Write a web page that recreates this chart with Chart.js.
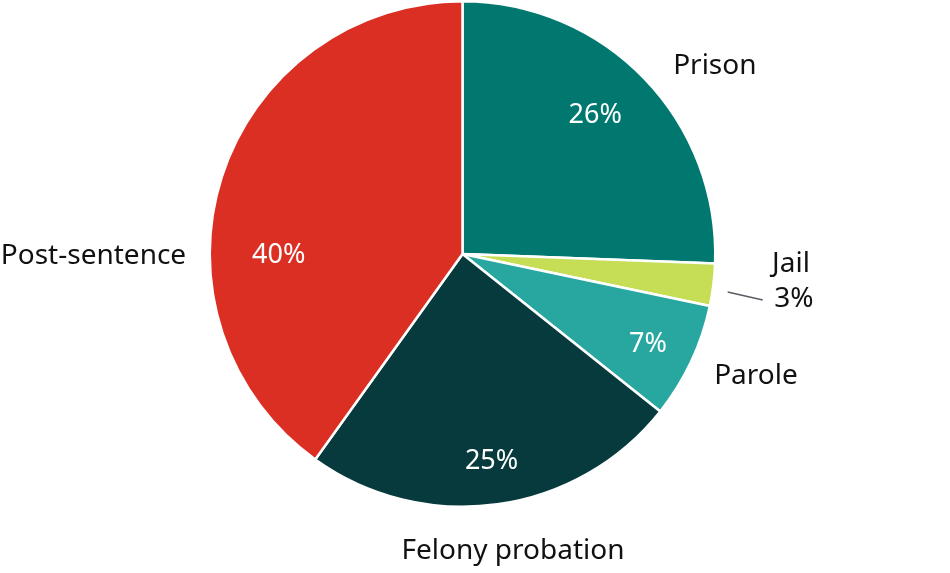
<!DOCTYPE html>
<html><head><meta charset="utf-8">
<script src="https://cdn.jsdelivr.net/npm/chart.js@4/dist/chart.umd.min.js"></script>
<style>html,body{margin:0;padding:0;background:#fff}#wrap{width:950px;height:573px}</style>
</head><body><div id="wrap"><canvas id="c" width="950" height="573"></canvas></div>
<script>
const categories = ["Prison", "Jail", "Parole", "Felony probation", "Post-sentence"];
const shares = [25.6, 2.7, 7.4, 24.2, 40.1];
const shareLabels = ["26%", "3%", "7%", "25%", "40%"];
const colors = ["#00786f", "#c5de55", "#27a79f", "#063a3d", "#db2f24"];
// inner percentage label placement: angle (deg from top, clockwise), radius factor; null = shown outside
const innerAngle = [43.5, null, 115.6, 172.0, 270.0];
const innerRadius = [0.763, null, 0.814, 0.826, 0.727];
// outside category label placement: angle and radius factor
const outerAngle = [53.0, 91.4, 112.3, 170.3, 270.0];
const outerRadius = [1.25, 1.30, 1.255, 1.185, 1.46];

const FONT = "'Noto Sans', sans-serif";

const labelPlugin = {
  id: 'labels',
  afterDatasetsDraw(chart) {
    const ctx = chart.ctx;
    const meta = chart.getDatasetMeta(0);
    ctx.save();
    ctx.textAlign = 'center';
    ctx.textBaseline = 'middle';
    meta.data.forEach((arc, i) => {
      const p = arc.getProps(['x','y','startAngle','endAngle','outerRadius'], true);
      const mid = (p.startAngle + p.endAngle) / 2;
      const txt = shareLabels[i];
      if (innerAngle[i] !== null) {
        ctx.fillStyle = '#ffffff';
        ctx.font = '27px ' + FONT;
        const a = (innerAngle[i] - 90) * Math.PI / 180;
        const r = p.outerRadius * innerRadius[i];
        ctx.fillText(txt, p.x + Math.cos(a) * r, p.y + Math.sin(a) * r + 1);
      }
      const a = (outerAngle[i] - 90) * Math.PI / 180;
      const R = p.outerRadius * outerRadius[i];
      const lx = p.x + Math.cos(a) * R, ly = p.y + Math.sin(a) * R + 2;
      ctx.fillStyle = '#111111';
      ctx.font = '28px ' + FONT;
      ctx.fillText(categories[i], lx, ly);
      if (innerAngle[i] === null) {
        ctx.fillText(txt, lx + 3, ly + 35);
        const r1 = p.outerRadius * 1.06, r2 = p.outerRadius * 1.2;
        const la = mid + 0.02;
        ctx.strokeStyle = '#5a5a64';
        ctx.lineWidth = 1.5;
        ctx.beginPath();
        ctx.moveTo(p.x + Math.cos(la) * r1, p.y + Math.sin(la) * r1);
        ctx.lineTo(p.x + Math.cos(la) * r2, p.y + Math.sin(la) * r2 + 3);
        ctx.stroke();
      }
    });
    ctx.restore();
  }
};

new Chart(document.getElementById('c'), {
  type: 'pie',
  data: {
    labels: categories,
    datasets: [{
      data: shares,
      backgroundColor: colors,
      borderColor: '#ffffff',
      borderWidth: 2.5
    }]
  },
  options: {
    responsive: false,
    animation: false,
    layout: { padding: { top: 0, bottom: 65, left: 0, right: 25 } },
    plugins: { legend: { display: false }, tooltip: { enabled: false } }
  },
  plugins: [labelPlugin]
});
</script>
</body></html>
